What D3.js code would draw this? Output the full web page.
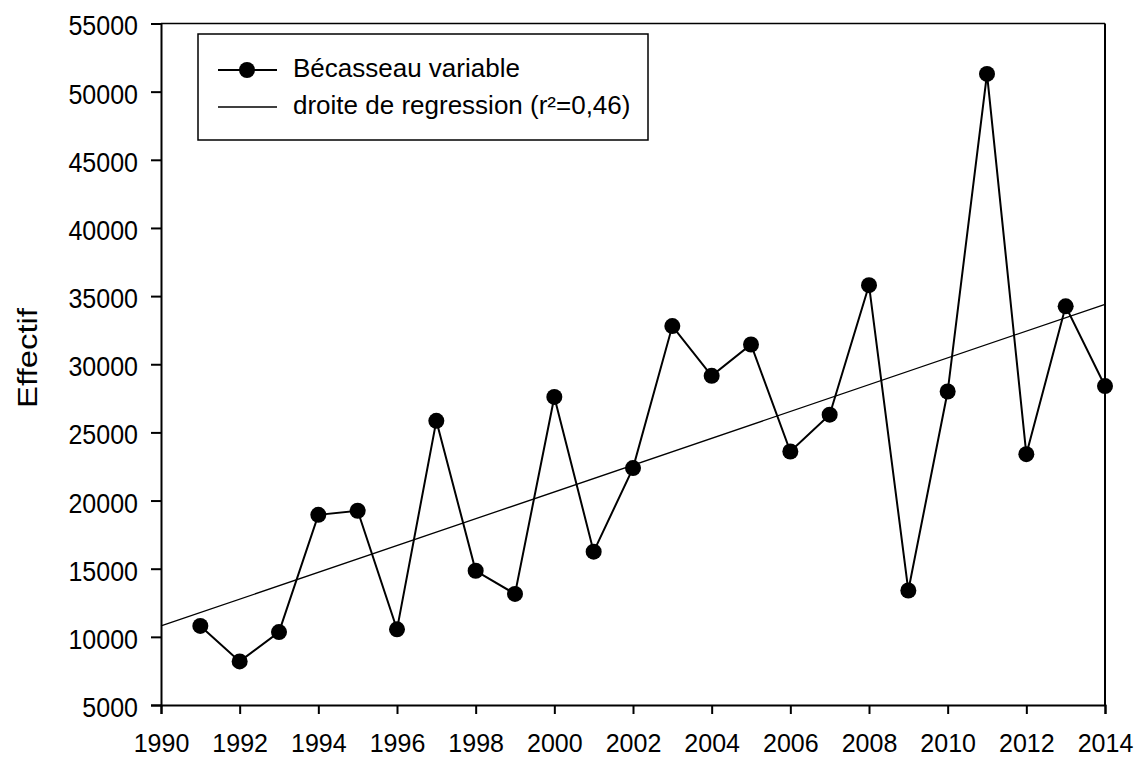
<!DOCTYPE html>
<html><head><meta charset="utf-8">
<script src="https://cdn.jsdelivr.net/npm/d3@7"></script>
<style>
html,body{margin:0;padding:0;background:#fff;}
svg text{font-family:"Liberation Sans",Arial,sans-serif;fill:#000;}
</style></head>
<body>
<svg id="chart" width="1138" height="758"></svg>
<script>
const years = [1991,1992,1993,1994,1995,1996,1997,1998,1999,2000,2001,2002,2003,2004,2005,2006,2007,2008,2009,2010,2011,2012,2013,2014];
const counts = [10800,8200,10350,18950,19250,10550,25850,14850,13150,27600,16250,22380,32800,29150,31450,23600,26300,35800,13400,28000,51300,23400,34250,28400];
const regYears = [1990, 2014];
const regValues = [10800, 34400];
const xTicks = [1990,1992,1994,1996,1998,2000,2002,2004,2006,2008,2010,2012,2014];
const yTicks = [5000,10000,15000,20000,25000,30000,35000,40000,45000,50000,55000];
const seriesLabel = "Bécasseau variable";
const regLabel = "droite de regression (r²=0,46)";
const yLabel = "Effectif";

const svg = d3.select("#chart");
const m = {left:161, right:1105, top:23.5, bottom:705};
const x = d3.scaleLinear().domain([1990,2014]).range([m.left,m.right]);
const y = d3.scaleLinear().domain([5000,55000]).range([m.bottom,m.top]);

// frame top & right
svg.append("line").attr("x1",m.left).attr("x2",m.right).attr("y1",m.top).attr("y2",m.top)
  .attr("stroke","#000").attr("stroke-width",1.5);
svg.append("line").attr("x1",m.right).attr("x2",m.right).attr("y1",m.top).attr("y2",m.bottom)
  .attr("stroke","#000").attr("stroke-width",2);

// axes
const xAxis = svg.append("g").attr("transform",`translate(0,${m.bottom})`)
  .call(d3.axisBottom(x).tickValues(xTicks).tickFormat(d3.format("d")).tickSize(9).tickPadding(21));
const yAxis = svg.append("g").attr("transform",`translate(${m.left},0)`)
  .call(d3.axisLeft(y).tickValues(yTicks).tickFormat(d3.format("d")).tickSize(10).tickPadding(13));
function styleTicks(g, size){
  g.select(".domain").attr("stroke","#000").attr("stroke-width",2);
  g.selectAll(".tick line").attr("stroke","#000").attr("stroke-width",2);
  g.selectAll(".tick text").attr("font-family","'Liberation Sans',Arial,sans-serif").attr("fill","#000")
    .each(function(){
      const t = d3.select(this);
      t.attr("font-size",25);
      const len = this.getComputedTextLength();
      t.attr("font-size",size).attr("textLength",len).attr("lengthAdjust","spacingAndGlyphs");
    });
}
styleTicks(xAxis, 26);
styleTicks(yAxis, 28);
xAxis.selectAll(".tick text").attr("y",46.5).attr("dy","0");
yAxis.selectAll(".tick text").attr("dy","0.41em");

// y label
svg.append("text").attr("transform","translate(37,358) rotate(-90)")
  .attr("text-anchor","middle").attr("font-size",28)
  .attr("textLength",100).attr("lengthAdjust","spacingAndGlyphs")
  .text(yLabel);

// regression line
const pts = regYears.map((d,i)=>[d,regValues[i]]);
svg.append("path").datum(pts)
  .attr("d",d3.line().x(d=>x(d[0])).y(d=>y(d[1])))
  .attr("fill","none").attr("stroke","#000").attr("stroke-width",1.3);

// data line
const data = years.map((d,i)=>({year:d,value:counts[i]}));
svg.append("path").datum(data)
  .attr("d",d3.line().x(d=>x(d.year)).y(d=>y(d.value)))
  .attr("fill","none").attr("stroke","#000").attr("stroke-width",2);
svg.selectAll("circle.pt").data(data).enter().append("circle").attr("class","pt")
  .attr("cx",d=>x(d.year)).attr("cy",d=>y(d.value)).attr("r",8).attr("fill","#000");

// legend
const lg = svg.append("g");
lg.append("rect").attr("x",198).attr("y",34).attr("width",450).attr("height",106)
  .attr("fill","#fff").attr("stroke","#000").attr("stroke-width",1.5);
lg.append("line").attr("x1",218).attr("x2",277).attr("y1",70).attr("y2",70).attr("stroke","#000").attr("stroke-width",2);
lg.append("circle").attr("cx",247).attr("cy",70).attr("r",8).attr("fill","#000");
lg.append("text").attr("x",293).attr("y",70).attr("dy","0.27em").attr("font-size",26).text(seriesLabel);
lg.append("line").attr("x1",218).attr("x2",277).attr("y1",107).attr("y2",107).attr("stroke","#000").attr("stroke-width",1.3);
lg.append("text").attr("x",293).attr("y",107).attr("dy","0.27em").attr("font-size",26).text(regLabel);
</script>
</body></html>
